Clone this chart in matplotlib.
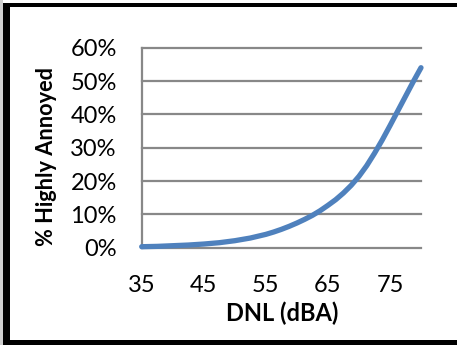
import matplotlib
matplotlib.use("Agg")
import matplotlib.pyplot as plt
from matplotlib.patches import Rectangle
from matplotlib.ticker import FuncFormatter

# Day-night sound level (dBA) and share of population highly annoyed (%)
dnl = [35, 37.5, 40, 42.5, 45, 47.5, 50, 52.5, 55, 56.25, 57.5, 58.75,
       60, 61.25, 62.5, 63.75, 65, 66.25, 67.5, 68.75, 70, 71.25, 72.5,
       73.75, 75, 76.25, 77.5, 78.75, 80]
pct_annoyed = [0.3, 0.4, 0.6, 0.8, 1.1, 1.5, 2.1, 2.9, 4.0, 4.7, 5.5, 6.4,
               7.4, 8.5, 9.7, 11.1, 12.7, 14.4, 16.4, 18.7, 21.4, 24.6, 28.3,
               32.3, 36.6, 41.0, 45.4, 49.8, 54.0]

x_ticks = [35, 45, 55, 65, 75]
y_ticks = [0, 10, 20, 30, 40, 50, 60]

W, H = 457, 345
fig = plt.figure(figsize=(W / 100, H / 100), dpi=100)
fig.patch.set_facecolor("white")

def px(x0, y0, w, h):
    return (x0 / W, 1 - (y0 + h) / H, w / W, h / H)

# frame around the figure
for (x0, y0, w, h, c) in [(0, 0, 3, H, "#cfcfcf"),
                          (3, 3, 7, H, "black"),
                          (3, 3, W, 4, "black"),
                          (3, 340, W, 5, "black")]:
    l, b, ww, hh = px(x0, y0, w, h)
    fig.add_artist(Rectangle((l, b), ww, hh, transform=fig.transFigure,
                             facecolor=c, edgecolor="none", zorder=0))

ax = fig.add_axes([141.7 / W, 1 - 247.7 / H, (421 - 141.7) / W, (247.7 - 47.7) / H])
ax.set_xlim(35, 80)
ax.set_ylim(0, 60)

grid_col = "#888888"
for y in y_ticks:
    ax.axhline(y, color=grid_col, lw=1.6, zorder=1, clip_on=False)
ax.plot([35, 35], [0, 60], color=grid_col, lw=1.6, zorder=1, clip_on=False)

ax.plot(dnl, pct_annoyed, color="#4F81BD", lw=3.8, solid_capstyle="round",
        solid_joinstyle="round", zorder=3, clip_on=False)

for s in ax.spines.values():
    s.set_visible(False)

font = "Lato"
ax.set_xticks(x_ticks)
ax.set_yticks(y_ticks)
ax.yaxis.set_major_formatter(FuncFormatter(lambda v, _: f"{int(v)}%"))
ax.tick_params(length=0, labelsize=17, colors="black")
ax.tick_params(axis="y", pad=18)
ax.tick_params(axis="x", pad=20)
for lab in ax.get_xticklabels() + ax.get_yticklabels():
    lab.set_fontfamily(font)

fig.text(282 / W, 1 - 313 / H, "DNL (dBA)", ha="center", va="center",
         fontsize=17, fontweight="bold", family=font)
fig.text(47 / W, 1 - 157 / H, "% Highly Annoyed", ha="center", va="center",
         rotation=90, fontsize=15.7, fontweight="bold", family=font)

fig.savefig("out.png", dpi=100, facecolor="white")
